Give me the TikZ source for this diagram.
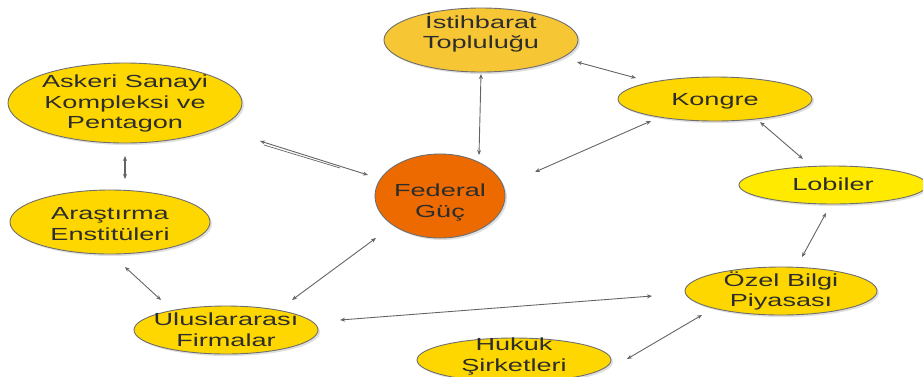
\documentclass[tikz,border=0pt]{standalone}
\usepackage{fontspec}
\setmainfont{Liberation Sans}
\usetikzlibrary{shapes.geometric,arrows.meta,shadows}
\definecolor{gold}{RGB}{255,215,0}
\definecolor{lightorange}{RGB}{246,198,52}
\definecolor{fedorange}{RGB}{236,106,0}
\definecolor{lemon}{RGB}{255,234,0}
\definecolor{edgegray}{RGB}{110,110,110}
\definecolor{arrowgray}{RGB}{100,100,100}
\definecolor{txtgray}{RGB}{45,45,45}
\newcommand{\wtxt}[1]{\scalebox{1.55}[1]{\begin{tabular}{@{}c@{}}#1\end{tabular}}}
\begin{document}
\begin{tikzpicture}[x=1pt,y=-1pt,
  oval/.style={ellipse,draw=edgegray,line width=0.9pt,inner sep=0pt,
    drop shadow={shadow xshift=2pt,shadow yshift=-2pt,opacity=0.25}},
  lbl/.style={text=txtgray,inner sep=0pt,font=\fontsize{17.5}{20.5}\selectfont},
  link/.style={draw=arrowgray,line width=0.9pt,{Stealth[length=5pt,width=4pt]}-{Stealth[length=5pt,width=4pt]}}]
\useasboundingbox (0,0) rectangle (923,376);
% ellipses
\node[oval,fill=lightorange,minimum width=194pt,minimum height=64pt] (ist) at (481,40) {};
\node[oval,fill=gold,minimum width=234pt,minimum height=80pt] (ask) at (125,103) {};
\node[oval,fill=gold,minimum width=200pt,minimum height=64pt] (ara) at (110,222) {};
\node[oval,fill=fedorange,minimum width=130pt,minimum height=84pt] (fed) at (440,196) {};
\node[oval,fill=gold,minimum width=194pt,minimum height=44pt] (kon) at (715,99) {};
\node[oval,fill=lemon,minimum width=188pt,minimum height=38pt] (lob) at (833,185) {};
\node[oval,fill=gold,minimum width=192pt,minimum height=48pt] (oze) at (781,291) {};
\node[oval,fill=gold,minimum width=194pt,minimum height=44pt] (huk) at (514,360) {};
\node[oval,fill=gold,minimum width=184pt,minimum height=48pt] (ulu) at (226,330) {};
% labels
\node[lbl] (istT) at (481,34) {\wtxt{İstihbarat\\Topluluğu}};
\node[lbl] (askT) at (125,104) {\wtxt{Askeri Sanayi\\Kompleksi ve\\Pentagon}};
\node[lbl] (araT) at (110,226) {\wtxt{Araştırma\\Enstitüleri}};
\node[lbl] (fedT) at (440,203) {\wtxt{Federal\\Güç}};
\node[lbl] (konT) at (715,101) {\wtxt{Kongre}};
\node[lbl] (lobT) at (833,186) {\wtxt{Lobiler}};
\node[lbl] (ozeT) at (781,292) {\wtxt{Özel Bilgi\\Piyasası}};
\node[lbl] (hukT) at (514,357) {\wtxt{Hukuk\\Şirketleri}};
\node[lbl] (uluT) at (226,332) {\wtxt{Uluslararası\\Firmalar}};
% connector end points
\coordinate (c1a) at (481,74);  \coordinate (c1b) at (479,155);
\coordinate (c2a) at (577,62);  \coordinate (c2b) at (636,78);
\coordinate (c3a) at (651,121); \coordinate (c3b) at (535,172);
\coordinate (c4a) at (260,141); \coordinate (c4b) at (368,175);
\coordinate (c4c) at (264,145); \coordinate (c4d) at (340,168);
\coordinate (c5a) at (125,156); \coordinate (c5b) at (125,179);
\coordinate (c6a) at (125,267); \coordinate (c6b) at (161,300);
\coordinate (c7a) at (376,238); \coordinate (c7b) at (292,300);
\coordinate (c8a) at (340,320); \coordinate (c8b) at (652,296);
\coordinate (c9a) at (760,122); \coordinate (c9b) at (803,159);
\coordinate (c10a) at (826,213); \coordinate (c10b) at (802,257);
\coordinate (c11a) at (702,315); \coordinate (c11b) at (627,359);
% connectors
\draw[link] (c1a) -- (c1b);
\draw[link] (c2a) -- (c2b);
\draw[link] (c3a) -- (c3b);
\draw[link] (c4a) -- (c4b);
\draw[draw=arrowgray,line width=0.7pt] (c4c) -- (c4d);
\draw[link,line width=1.2pt] (c5a) -- (c5b);
\draw[link] (c6a) -- (c6b);
\draw[link] (c7a) -- (c7b);
\draw[link] (c8a) -- (c8b);
\draw[link] (c9a) -- (c9b);
\draw[link] (c10a) -- (c10b);
\draw[link] (c11a) -- (c11b);
\end{tikzpicture}
\end{document}
